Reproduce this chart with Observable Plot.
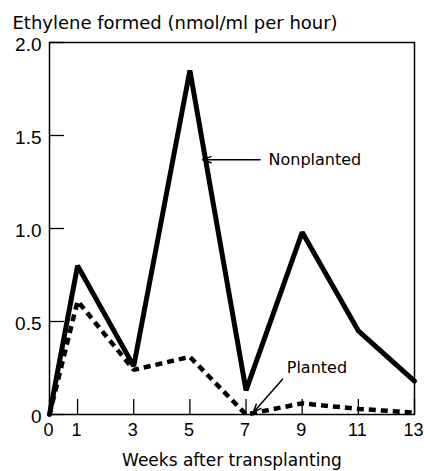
<!DOCTYPE html>
<html>
<head>
<meta charset="utf-8">
<script src="https://cdn.jsdelivr.net/npm/d3@7"></script>
<script src="https://cdn.jsdelivr.net/npm/@observablehq/plot@0.6"></script>
<style>
  html, body { margin: 0; padding: 0; background: #fff; }
  #chart svg { display: block; }
</style>
</head>
<body>
<div id="chart"></div>
<script>
// Data
const weeks = [0, 1, 3, 5, 7, 9, 11, 13];
const nonplanted = [0, 0.80, 0.26, 1.85, 0.13, 0.98, 0.45, 0.18];
const planted = [0, 0.61, 0.24, 0.31, 0.0, 0.06, 0.03, 0.01];
const xTicks = [0, 1, 3, 5, 7, 9, 11, 13];
const yTicks = [0, 0.5, 1.0, 1.5, 2.0];
const titleText = "Ethylene formed (nmol/ml per hour)";
const xLabelText = "Weeks after transplanting";
// annotations (data coordinates)
const annLabels = ["Nonplanted", "Planted"];
const annTextX = [7.8, 8.45];
const annTextY = [1.37, 0.25];
const annArrowX1 = [7.5, 8.3];
const annArrowY1 = [1.37, 0.19];
const annArrowX2 = [5.45, 7.25];
const annArrowY2 = [1.37, 0.01];

const rows = weeks.map((w, i) => ({week: w, nonplanted: nonplanted[i], planted: planted[i]}));
const ann = annLabels.map((t, i) => ({
  label: t, tx: annTextX[i], ty: annTextY[i],
  x1: annArrowX1[i], y1: annArrowY1[i], x2: annArrowX2[i], y2: annArrowY2[i]
}));

const font = "DejaVu Sans";
const tickFont = "Liberation Sans";

const chart = Plot.plot({
  width: 424,
  height: 471,
  marginTop: 42,
  marginLeft: 49,
  marginRight: 10,
  marginBottom: 57,
  style: {fontFamily: font, background: "#fff", color: "#000"},
  x: {domain: [0, 13], label: null},
  y: {domain: [0, 2], label: null},
  marks: [
    Plot.frame({stroke: "#000", strokeWidth: 1.5}),
    // inward ticks
    Plot.axisX({ticks: xTicks, tickSize: -15, tickFormat: () => "", strokeWidth: 1.3}),
    Plot.axisY({ticks: yTicks, tickSize: -15, tickFormat: () => "", strokeWidth: 1.3}),
    // labels
    Plot.axisX({ticks: xTicks, tickSize: 0, tickPadding: 9, fontSize: 18, fontFamily: tickFont, dx: -1, tickFormat: d => String(d)}),
    Plot.axisY({ticks: yTicks, tickSize: 0, tickPadding: 8, fontSize: 19, fontFamily: tickFont, dy: 2, tickFormat: d => d === 0 ? "0" : d.toFixed(1)}),
    Plot.line(rows, {x: "week", y: "planted", stroke: "#000", strokeWidth: 4.5, strokeDasharray: "7,5", strokeLinecap: "butt", strokeLinejoin: "miter"}),
    Plot.line(rows, {x: "week", y: "nonplanted", stroke: "#000", strokeWidth: 5, strokeLinejoin: "miter"}),
    Plot.arrow(ann, {x1: "x1", y1: "y1", x2: "x2", y2: "y2", stroke: "#000", strokeWidth: 1.5, headLength: 9, headAngle: 40}),
    Plot.text(ann, {x: "tx", y: "ty", text: "label", textAnchor: "start", fontSize: 16, fill: "#000"}),
    Plot.text([titleText], {frameAnchor: "top-left", dx: -37, dy: -14, lineAnchor: "bottom", textAnchor: "start", fontSize: 18, fill: "#000"}),
    Plot.text([xLabelText], {frameAnchor: "bottom", dy: 46, lineAnchor: "middle", fontSize: 17, fill: "#000"})
  ]
});
document.getElementById("chart").appendChild(chart);
</script>
</body>
</html>
